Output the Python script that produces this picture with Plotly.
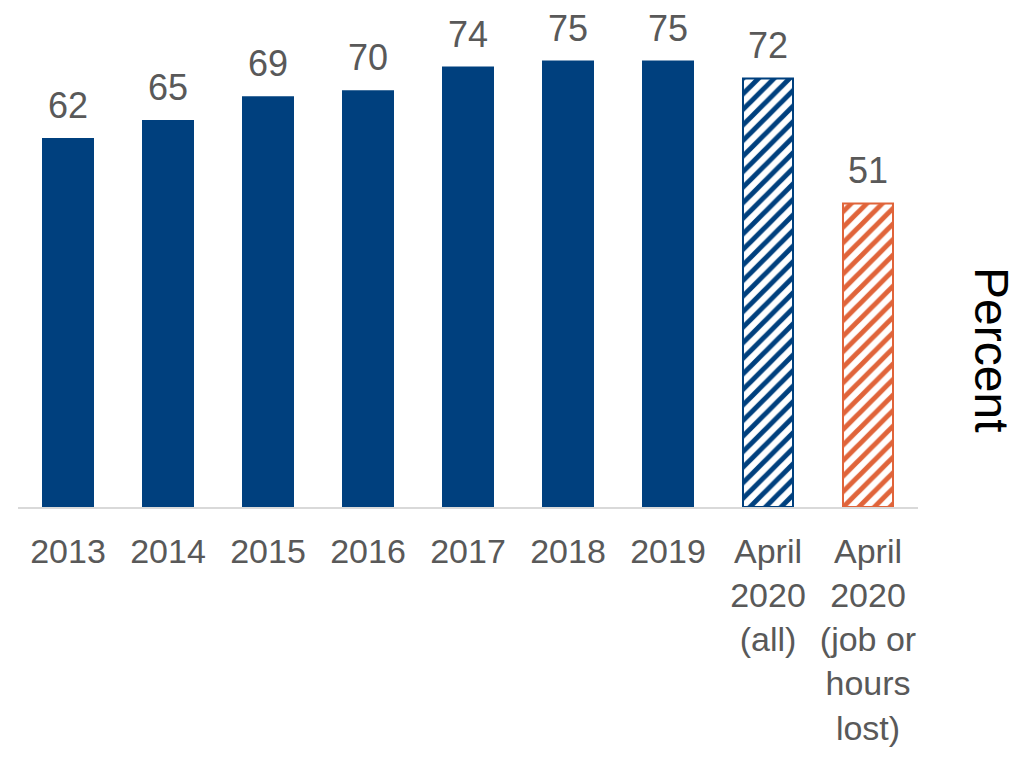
import plotly.graph_objects as go

categories = ["2013", "2014", "2015", "2016", "2017", "2018", "2019",
              "April 2020 (all)", "April 2020 (job or hours lost)"]
tick_labels = ["2013", "2014", "2015", "2016", "2017", "2018", "2019",
               "April<br>2020<br>(all)", "April<br>2020<br>(job or<br>hours<br>lost)"]
values = [62, 65, 69, 70, 74, 75, 75, 72, 51]
label_text = ["62", "65", "69", "70", "74", "75", "75", "72", "51"]

NAVY = "#00407E"
ORANGE = "#E0643A"
GREY = "#595959"
NARROW = "Liberation Sans Narrow, Arial Narrow, Liberation Sans, Arial, sans-serif"

pos = list(range(len(categories)))

fig = go.Figure()

# solid bars (2013-2019)
fig.add_trace(go.Bar(
    x=pos[:7], y=values[:7],
    marker=dict(color=NAVY, line=dict(width=0)),
    width=0.52, showlegend=False, hoverinfo="skip",
))
# hatched bars (April 2020)
fig.add_trace(go.Bar(
    x=pos[7:], y=values[7:],
    marker=dict(
        color="white",
        line=dict(color=[NAVY, ORANGE], width=2),
        pattern=dict(shape="/", fgcolor=[NAVY, ORANGE], bgcolor="white",
                     size=11, solidity=0.45, fillmode="replace"),
    ),
    width=0.50, showlegend=False, hoverinfo="skip",
))

annotations = []
for p, v, t in zip(pos, values, label_text):
    annotations.append(dict(
        x=p, y=v, xref="x", yref="y", text=t, showarrow=False,
        yanchor="bottom", yshift=10,
        font=dict(family=NARROW, size=36, color=GREY),
    ))
annotations.append(dict(
    x=1.081, y=0.316, xref="paper", yref="paper", text="Percent",
    showarrow=False, textangle=90, xanchor="center", yanchor="middle",
    font=dict(family="Liberation Sans, Arial, sans-serif", size=48, color="black"),
))

fig.update_layout(
    width=1018, height=759,
    margin=dict(l=10, r=108, t=2, b=260, autoexpand=False),
    paper_bgcolor="white", plot_bgcolor="white",
    barmode="overlay",
    xaxis=dict(
        range=[-0.5, len(categories) - 0.5],
        tickmode="array", tickvals=pos, ticktext=tick_labels,
        showline=True, linecolor="#D9D9D9", linewidth=2,
        ticks="", showgrid=False, zeroline=False,
        tickfont=dict(family=NARROW, size=34, color=GREY),
        tickangle=0, automargin=False, ticklabelstandoff=13,
    ),
    yaxis=dict(
        range=[0, 83.5], visible=False, showgrid=False, zeroline=False,
        automargin=False,
    ),
    annotations=annotations,
)

fig.write_html("out.html")
